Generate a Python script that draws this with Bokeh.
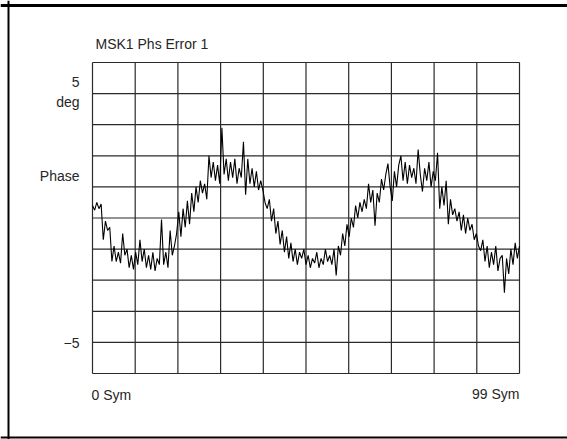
from bokeh.plotting import figure
from bokeh.models import Range1d, Label, Span
from bokeh.embed import file_html
from bokeh.resources import INLINE

# ---- data -------------------------------------------------------------
title_text = "MSK1 Phs Error 1"
x_min, x_max = 0, 99          # symbols
y_min, y_max = -5, 5          # degrees
x_step = 0.5                  # sample spacing in symbols
x_divs = 10
y_divs = 10

phase_err = [
    0.4, 0.25, 0.5, 0.3, 0.45, -0.7, -0.1, -0.4, -0.3, -1.4,
    -0.9, -1.4, -1.1, -1.45, -0.5, -1.2, -1.0, -1.6, -1.2, -1.65,
    -1.1, -1.5, -0.7, -1.4, -1.0, -1.6, -1.2, -1.65, -1.1, -1.7,
    -1.3, -1.5, -0.05, -1.5, -1.1, -1.6, -0.4, -1.2, -0.9, -0.5,
    0.2, -0.6, 0.3, -0.3, 0.55, -0.2, 0.8, 0.2, 1.0, 0.5,
    1.2, 0.8, 1.1, 0.6, 2.0, 1.3, 1.8, 1.2, 1.7, 1.1,
    2.9, 1.4, 1.9, 1.2, 1.8, 1.3, 1.9, 1.1, 1.6, 1.3,
    2.45, 0.75, 1.9, 1.1, 1.6, 1.0, 1.5, 0.9, 1.2, 0.9,
    0.5, 0.3, 0.6, -0.1, 0.3, -0.5, -0.1, -0.85, -0.4, -1.1,
    -0.6, -1.3, -0.8, -1.4, -1.0, -1.5, -1.1, -1.3, -1.0, -1.5,
    -1.2, -1.6, -1.3, -1.45, -1.1, -1.6, -1.3, -1.5, -1.0, -1.4,
    -1.2, -1.5, -1.0, -1.85, -0.9, -1.2, -0.5, -0.9, -0.2, -0.6,
    0.0, -0.3, 0.4, 0.0, 0.5, 0.2, 0.6, 0.3, 1.1, 0.5,
    0.9, -0.25, 0.8, 0.5, 1.25, 0.9, 1.4, 1.75, 1.0, 0.55,
    1.5, 1.0, 1.7, 2.0, 1.2, 1.8, 1.1, 1.7, 1.3, 1.6,
    1.1, 2.2, 1.4, 0.85, 1.6, 1.2, 1.8, 1.0, 1.5, 1.2,
    2.1, 0.3, 1.0, 0.4, 1.2, -0.2, 0.6, 0.1, 0.3, -0.1,
    0.2, -0.4, 0.1, -0.5, 0.0, -0.4, -0.2, -0.7, -0.5, -0.9,
    -1.05, -0.7, -1.4, -0.9, -1.6, -1.1, -1.5, -0.9, -1.7, -1.3,
    -1.2, -2.4, -1.3, -1.8, -1.0, -1.5, -0.8, -1.3, -0.9,
]
sym = [i * x_step for i in range(len(phase_err))]

x_grid = [x_min + (x_max - x_min) * i / x_divs for i in range(x_divs + 1)]
y_grid = [y_min + (y_max - y_min) * i / y_divs for i in range(y_divs + 1)]

# ---- layout (pixels on the canvas) -----------------------------------
W, H = 567, 439
PX0, PX1 = 92, 519      # canvas x of x_min / x_max
PY_TOP, PY_BOT = 62, 373  # canvas y of y_max / y_min

sx = (PX1 - PX0) / (x_max - x_min)
sy = (PY_BOT - PY_TOP) / (y_max - y_min)
x_start = x_min - PX0 / sx
x_end = x_max + (W - PX1) / sx
y_end = y_max + PY_TOP / sy
y_start = y_min - (H - PY_BOT) / sy


def dx(px):
    return x_start + px / sx


def dy(py):
    return y_end - py / sy


p = figure(width=W, height=H, output_backend="svg", toolbar_location=None,
           x_axis_type=None, y_axis_type=None,
           x_range=Range1d(x_start, x_end), y_range=Range1d(y_start, y_end))
p.min_border = 0
p.outline_line_color = None
p.background_fill_color = "white"
p.border_fill_color = "white"

GRID_COL = "#2a2a2a"
p.segment(x0=x_grid, y0=[y_min] * len(x_grid), x1=x_grid, y1=[y_max] * len(x_grid),
          line_color=GRID_COL, line_width=1.2)
p.segment(x0=[x_min] * len(y_grid), y0=y_grid, x1=[x_max] * len(y_grid), y1=y_grid,
          line_color=GRID_COL, line_width=1.2)

p.line(sym, phase_err, line_color="black", line_width=1.1)

# outer border (left, bottom, top)
p.add_layout(Span(location=dx(8), dimension="height", line_color="black", line_width=2))
p.add_layout(Span(location=dy(437), dimension="width", line_color="black", line_width=2))
p.add_layout(Span(location=dy(5), dimension="width", line_color="black", line_width=3))

FONT = "Liberation Sans"
TXT = "#262626"


def lab(text, px, py, align, size="14px"):
    p.add_layout(Label(x=dx(px), y=dy(py), text=text, text_font=FONT,
                       text_font_size=size, text_color=TXT,
                       text_align=align, text_baseline="middle"))


lab(title_text, 95, 43, "left")
lab("5", 79, 81, "right")
lab("deg", 79, 101, "right")
lab("Phase", 79, 175, "right")
lab("\u22125", 79, 342, "right")
lab("0 Sym", 91, 394, "left")
lab("99 Sym", 519, 393, "right")

html = file_html(p, INLINE)
open("out.html", "w").write(html)
